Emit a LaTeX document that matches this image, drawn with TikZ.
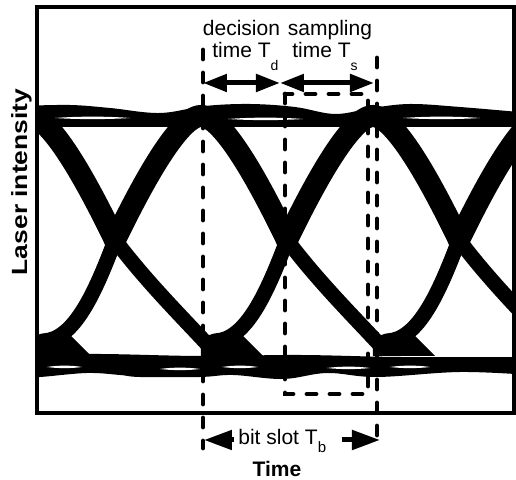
\documentclass[tikz,border=0pt]{standalone}
\usepackage{fontspec}
\setmainfont{Liberation Sans}
\usetikzlibrary{arrows.meta}
% lowered subscript: drop, size, text
\newcommand{\lowsub}[3]{\raisebox{-#1}{\fontsize{#2}{#2}\selectfont #3}}
\begin{document}
\begin{tikzpicture}[x=0.5pt,y=-0.5pt,
  toparm/.style={line width=11pt, line cap=round},
  botarm/.style={line width=7.5pt, line cap=round, line join=round},
  gridline/.style={line width=2.4pt, line cap=round, dash pattern=on 4.5pt off 7pt},
  dimarrow/.style={line width=2.5pt, {Triangle[length=12pt,width=8.5pt]}-{Triangle[length=12pt,width=8.5pt]}},
  slotarrow/.style={line width=2.5pt, -{Triangle[length=14pt,width=9.5pt]}},
  lbl/.style={font=\fontsize{10.5}{12}\selectfont, inner sep=0pt},
  axislbl/.style={font=\bfseries\fontsize{10.5}{12}\selectfont, inner sep=0pt}
]
\fill[white] (0,0) rectangle (516,480);
\useasboundingbox (0,0) rectangle (516,480);

% frame corners
\coordinate (fa) at (37,7);
\coordinate (fb) at (513.8,413);

\begin{scope}
  \clip (fa) rectangle (fb);
  % logic-one rail
  \fill plot[smooth, tension=0.6] coordinates {(20,106) (70,105) (110,108) (160,113) (205,106) (250,104) (295,107) (335,114) (372,108) (410,104) (460,107) (530,113)}
        -- (530,127) -- (20,127) -- cycle;
  % logic-zero rail
  \fill plot[smooth, tension=0.6] coordinates {(20,355) (100,354) (200,356) (300,355) (400,357) (530,357)}
        -- plot[smooth, tension=0.6] coordinates {(530,375) (460,372) (377,377) (327,373) (283,379) (233,375) (200,377) (140,377) (120,375) (87,373) (40,377) (20,377)}
        -- cycle;
  % thin gaps between overlapping traces
  \foreach \a/\b/\y in {55/130/118, 228/303/119, 403/480/118,
                        47/82/367, 160/200/369, 222/258/367, 327/370/368, 390/430/367}
    \fill[white] (\a,\y) .. controls ({\a+0.3*(\b-\a)},{\y-1.8}) and ({\a+0.7*(\b-\a)},{\y-1.8}) .. (\b,\y)
                 .. controls ({\a+0.7*(\b-\a)},{\y+1.5}) and ({\a+0.3*(\b-\a)},{\y+1.5}) .. cycle;
  % transitions: upper arms meet at each peak, lower arms at each valley
  \foreach \p in {29,201,373,545} {
    \draw[toparm] (\p-86,240) .. controls (\p-69,205) and (\p-25,116) .. (\p,116)
                  .. controls (\p+25,116) and (\p+69,205) .. (\p+86,240);
    \draw[botarm] (\p-86,240) .. controls (\p-56,280) and (\p-20,316) .. (\p+6,344)
                  -- (\p+14,341) .. controls (\p+45,340) and (\p+66,293) .. (\p+86,240);
    \fill (\p,344) -- (\p+28,338) -- (\p+42,336) -- (\p+62,356) -- (\p,356) -- cycle;
  }
\end{scope}

% decision and bit-slot boundaries
\coordinate (dtop) at (203,50);
\coordinate (dbot) at (203,448);
\coordinate (btop) at (377,58);
\coordinate (bbot) at (377,448);
\draw[gridline] (dtop) -- (dbot);
\draw[gridline] (btop) -- (bbot);
% sampling window
\coordinate (sa) at (285,94);
\coordinate (sb) at (368,394);
\draw[gridline] (sa) rectangle (sb);

% frame
\draw[line width=2.2pt] (fa) rectangle (fb);

% decision / sampling time arrows
\coordinate (ta) at (203,83);
\coordinate (tb) at (280,83);
\coordinate (tc) at (374,83);
\draw[dimarrow] (ta) -- (tb);
\draw[dimarrow] (tb) -- (tc);

\node[lbl, anchor=base] (dec) at (241.5,36) {decision};
\node[lbl, anchor=base] (smp) at (330,36) {sampling};
\node[lbl, anchor=base west] (td) at (212,58) {time T\lowsub{6.5pt}{7}{d}};
\node[lbl, anchor=base west] (ts) at (292,58) {time T\lowsub{6.5pt}{7}{s}};

% bit slot
\node[lbl, anchor=base west] (tbit) at (238,445) {bit slot T\lowsub{4pt}{7.5}{b}};
\coordinate (la) at (234,440);
\coordinate (lb) at (204,440);
\coordinate (ra) at (342,440);
\coordinate (rb) at (380,440);
\draw[slotarrow] (la) -- (lb);
\draw[slotarrow] (ra) -- (rb);

% axis titles
\node[axislbl, anchor=base] (xt) at (277,477) {Time};
\node[axislbl, anchor=base, rotate=90] (yt) at (27,182) {\scalebox{1.2}[1]{\fontsize{11}{12}\selectfont Laser intensity}};
\end{tikzpicture}
\end{document}
